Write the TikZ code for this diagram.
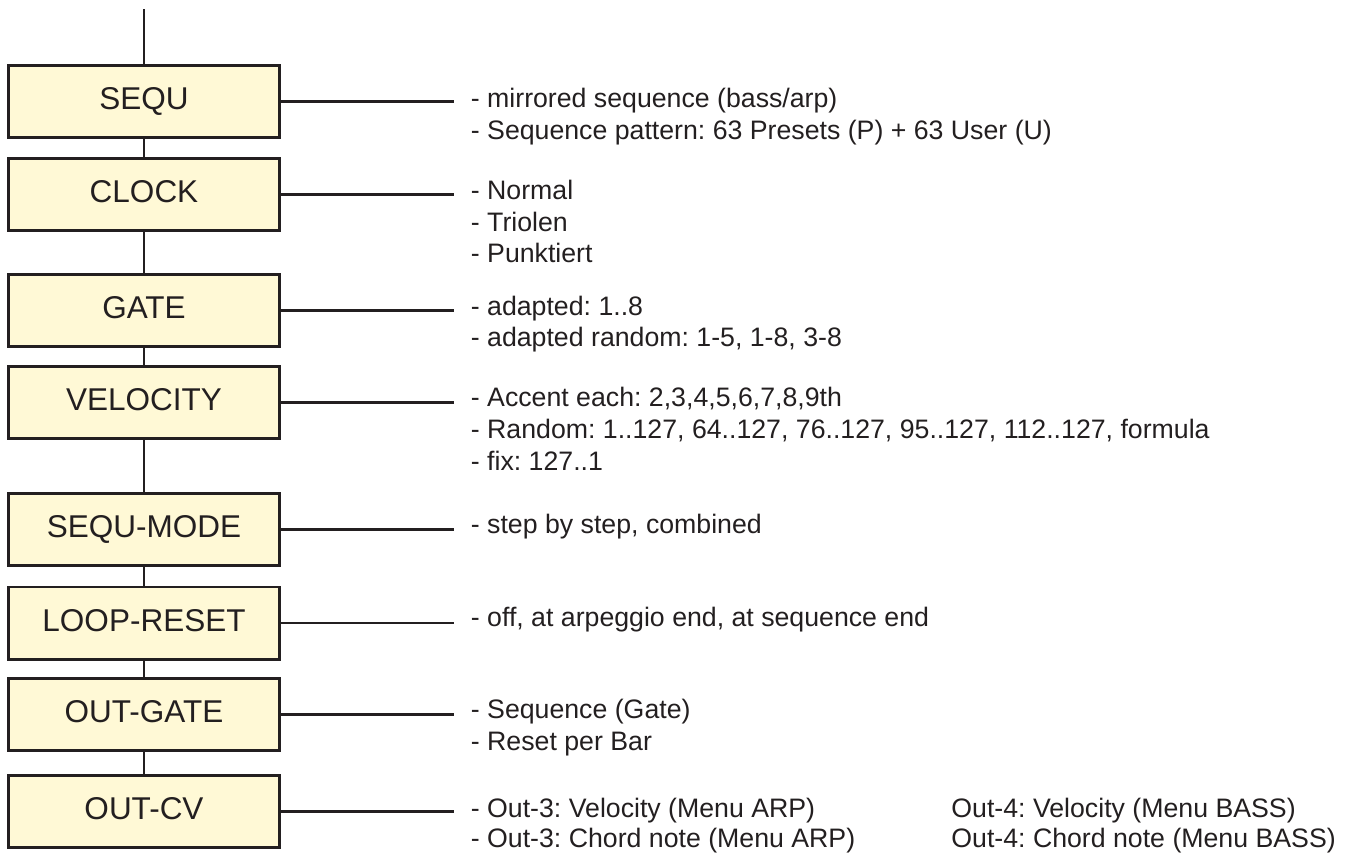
\documentclass[tikz,border=0pt]{standalone}
\usepackage{fontspec}
\setmainfont{Liberation Sans}
\frenchspacing
\usetikzlibrary{calc}
\definecolor{boxfill}{HTML}{FFF9D6}
\definecolor{ink}{HTML}{231F20}
\begin{document}
\begin{tikzpicture}[x=0.5pt, y=-0.5pt,
  modbox/.style={draw=ink, fill=boxfill, line width=1.4pt, minimum width=135.6pt, minimum height=36.1pt, inner sep=0pt, text=ink, font=\fontsize{15.75}{18}\selectfont, text height=11.3pt, text depth=3pt},
  desc/.style={anchor=base west, inner sep=0pt, text=ink, font=\fontsize{13.35}{16}\selectfont},
  wire/.style={draw=ink, line width=1.2pt}]
\useasboundingbox (0,0) rectangle (1354,852);
\coordinate (feed) at (144,9);
\node[modbox] (seqbox) at (144,101.5) {SEQU};
\node[modbox] (clkbox) at (144,194.5) {CLOCK};
\node[modbox] (gatebox) at (144,310.5) {GATE};
\node[modbox] (velbox) at (144,402.5) {VELOCITY};
\node[modbox] (modebox) at (144,529.5) {SEQU-MODE};
\node[modbox] (loopbox) at (144,623) {LOOP-RESET};
\node[modbox] (ogatebox) at (144,714.5) {OUT-GATE};
\node[modbox] (ocvbox) at (144,811.5) {OUT-CV};
\draw[wire] (feed) -- (seqbox);
\draw[wire] (seqbox) -- (clkbox);
\draw[wire] (clkbox) -- (gatebox);
\draw[wire] (gatebox) -- (velbox);
\draw[wire] (velbox) -- (modebox);
\draw[wire] (modebox) -- (loopbox);
\draw[wire] (loopbox) -- (ogatebox);
\draw[wire] (ogatebox) -- (ocvbox);
\node[desc] (seq1) at (470.5,107) {- mirrored sequence (bass/arp)};
\node[desc] (seq2) at (470.5,139) {- Sequence pattern: 63 Presets (P) + 63 User (U)};
\node[desc] (clk1) at (470.5,199.5) {- Normal};
\node[desc] (clk2) at (470.5,231) {- Triolen};
\node[desc] (clk3) at (470.5,262.5) {- Punktiert};
\node[desc] (gate1) at (470.5,315) {- adapted: 1..8};
\node[desc] (gate2) at (470.5,346.5) {- adapted random: 1-5, 1-8, 3-8};
\node[desc] (vel1) at (470.5,406.5) {- Accent each: 2,3,4,5,6,7,8,9th};
\node[desc] (vel2) at (470.5,438.3) {- Random: 1..127, 64..127, 76..127, 95..127, 112..127, formula};
\node[desc] (vel3) at (470.5,470) {- fix: 127..1};
\node[desc] (mode1) at (470.5,533.3) {- step by step, combined};
\node[desc] (loop1) at (470.5,626.7) {- off, at arpeggio end, at sequence end};
\node[desc] (ogate1) at (470.5,718.3) {- Sequence (Gate)};
\node[desc] (ogate2) at (470.5,750) {- Reset per Bar};
\node[desc] (ocv1) at (470.5,817) {- Out-3: Velocity (Menu ARP)};
\node[desc] (ocv2) at (470.5,847.5) {- Out-3: Chord note (Menu ARP)};
\node[desc] (ocv3) at (951,817) {Out-4: Velocity (Menu BASS)};
\node[desc] (ocv4) at (951,847.5) {Out-4: Chord note (Menu BASS)};
\draw[wire] (seqbox.east) -- ($(seqbox.east -| seq1.west)+(-8.5pt,0)$);
\draw[wire] (clkbox.east) -- ($(clkbox.east -| clk1.west)+(-8.5pt,0)$);
\draw[wire] (gatebox.east) -- ($(gatebox.east -| gate1.west)+(-8.5pt,0)$);
\draw[wire] (velbox.east) -- ($(velbox.east -| vel1.west)+(-8.5pt,0)$);
\draw[wire] (modebox.east) -- ($(modebox.east -| mode1.west)+(-8.5pt,0)$);
\draw[wire] (loopbox.east) -- ($(loopbox.east -| loop1.west)+(-8.5pt,0)$);
\draw[wire] (ogatebox.east) -- ($(ogatebox.east -| ogate1.west)+(-8.5pt,0)$);
\draw[wire] (ocvbox.east) -- ($(ocvbox.east -| ocv1.west)+(-8.5pt,0)$);
\end{tikzpicture}
\end{document}
